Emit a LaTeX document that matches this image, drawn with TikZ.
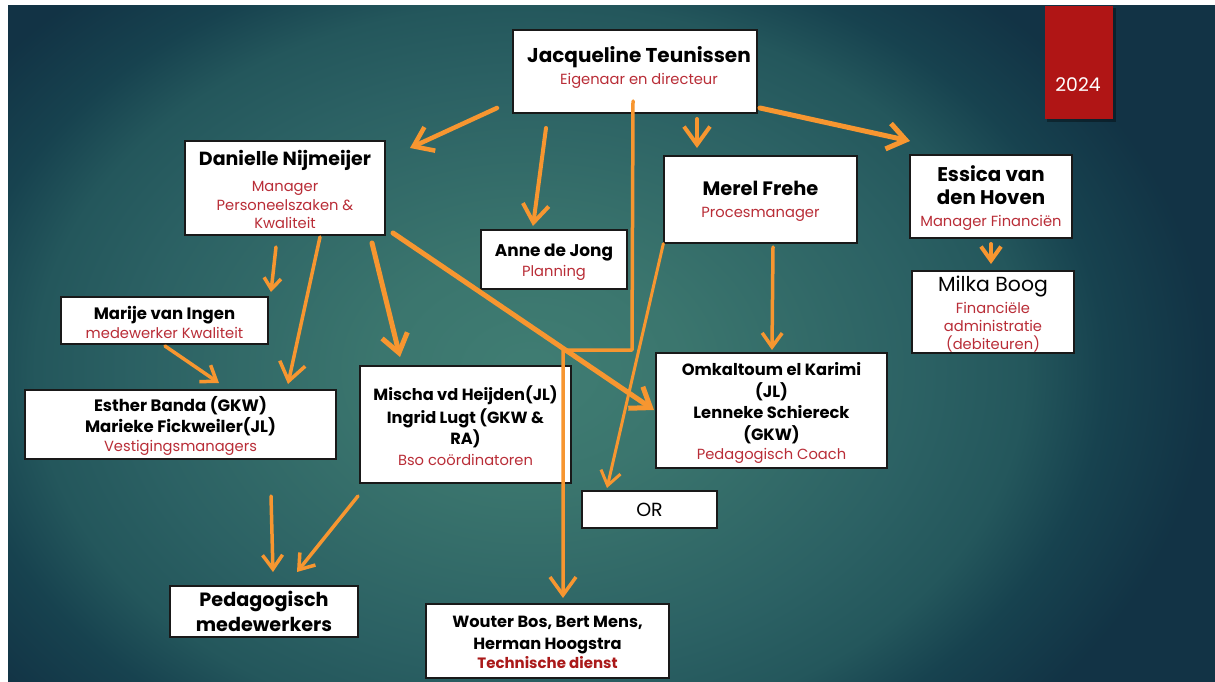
\documentclass[tikz,border=0pt]{standalone}
\usepackage{fontspec}
\setmainfont{Poppins}
\usetikzlibrary{arrows.meta}
\definecolor{orng}{RGB}{247,150,48}
\definecolor{subred}{RGB}{185,45,55}
\definecolor{tdred}{RGB}{170,25,25}
\definecolor{redbar}{RGB}{176,21,21}
\pgfdeclareradialshading{slidebg}{\pgfpoint{0bp}{0bp}}{rgb(0bp)=(0.25,0.49,0.45); rgb(12bp)=(0.23,0.46,0.43); rgb(30bp)=(0.17,0.38,0.39); rgb(38bp)=(0.14,0.34,0.36); rgb(44bp)=(0.09,0.26,0.31); rgb(52bp)=(0.07,0.20,0.27); rgb(100bp)=(0.07,0.20,0.27)}
\newcommand\nm[1]{\fontsize{#1}{19}\selectfont\bfseries}
\newcommand\sbt{\fontsize{14.7}{19}\selectfont\color{subred}}
\tikzset{
  box/.style={draw=black!90, line width=1.3pt, fill=white, inner sep=0pt},
  txt/.style={align=center, inner sep=0pt, font=\fontsize{14}{19}\selectfont},
  con/.style={draw=orng, line width=4pt, line cap=round, line join=round},
  arrbig/.style={con, -{Straight Barb[length=18pt,width=26pt]}},
  arrmid/.style={con, -{Straight Barb[length=14pt,width=20pt]}},
  arrsmall/.style={con, -{Straight Barb[length=11pt,width=17pt]}},
}
\begin{document}
\begin{tikzpicture}[x=1pt,y=-1pt]
\useasboundingbox (0,0) rectangle (1215,682);
\fill[white] (0,0) rectangle (1215,682);
\begin{scope}
\clip (8,6) rectangle (1215,682);
\pgftransformshift{\pgfpointxy{530}{370}}
\pgftransformxscale{13}
\pgftransformyscale{9.6}
\pgflowlevelsynccm
\pgfuseshading{slidebg}
\end{scope}
% red bar
\fill[black,opacity=0.35] (1047,8) rectangle (1116,122);
\node[fill=redbar, minimum width=68pt, minimum height=113pt, inner sep=0pt, anchor=north west] (bar) at (1045,6) {};
\node[txt, text=white, font=\fontsize{18.8}{19}\selectfont] (year) at (1078,85) {2024};

% boxes
\node[box, minimum width=244pt, minimum height=83pt] (jt) at (635,71.5) {};
\node[box, minimum width=200pt, minimum height=94pt] (dn) at (285,188) {};
\node[box, minimum width=146pt, minimum height=59pt] (aj) at (554,259.5) {};
\node[box, minimum width=193pt, minimum height=87pt] (mf) at (760.5,199.5) {};
\node[box, minimum width=162pt, minimum height=83pt] (ev) at (991,196.5) {};
\node[box, minimum width=162pt, minimum height=82pt] (mb) at (993,312) {};
\node[box, minimum width=207pt, minimum height=47pt] (mi) at (164.5,320.5) {};
\node[box, minimum width=311pt, minimum height=69pt] (eb) at (180.5,424.5) {};
\node[box, minimum width=211pt, minimum height=117pt] (mh) at (465.5,424.5) {};
\node[box, minimum width=231pt, minimum height=115pt] (ok) at (771.5,410.5) {};
\node[box, minimum width=135pt, minimum height=37pt] (or) at (649.5,509.5) {};
\node[box, minimum width=188pt, minimum height=51pt] (pm) at (264,611.5) {};
\node[box, minimum width=243pt, minimum height=74pt] (wb) at (547.5,641) {};

% texts
\node[txt] (jtt) at (639,67) {{\nm{20}Jacqueline Teunissen}\\[3pt]{\sbt Eigenaar en directeur}};
\node[txt] (dnt) at (285,189.5) {{\nm{19}Danielle Nijmeijer}\\[7pt]{\sbt Manager}\\{\sbt Personeelszaken \&}\\[-1pt]{\sbt Kwaliteit}};
\node[txt] (ajt) at (554,262) {{\nm{16.9}Anne de Jong}\\[1pt]{\sbt Planning}};
\node[txt] (mft) at (760.5,201) {{\nm{19.4}Merel Frehe}\\[3pt]{\sbt Procesmanager}};
\node[txt] (evt) at (991,198.5) {{\nm{19.8}Essica van}\\[4pt]{\nm{19.8}den Hoven}\\[3pt]{\sbt Manager Financiën}};
\node[txt] (mbt) at (993,314) {{\fontsize{20.4}{19}\selectfont Milka Boog}\\[3pt]{\sbt Financiële}\\[-1pt]{\sbt administratie}\\[-1pt]{\sbt (debiteuren)}};
\node[txt] (mit) at (164.5,322.5) {{\nm{16.5}Marije van Ingen}\\{\sbt medewerker Kwaliteit}};
\node[txt] (ebt) at (180.5,426) {{\nm{16.5}Esther Banda (GKW)}\\[2pt]{\nm{16.5}Marieke Fickweiler(JL)}\\{\sbt Vestigingsmanagers}};
\node[txt] (mht) at (465.5,425.5) {{\nm{16.2}Mischa vd Heijden(JL)}\\[3pt]{\nm{16.2}Ingrid Lugt (GKW \&}\\[1pt]{\nm{16.2}RA)}\\[2pt]{\sbt Bso coördinatoren}};
\node[txt] (okt) at (771.5,413) {{\nm{16.3}Omkaltoum el Karimi}\\[3pt]{\nm{16.3}(JL)}\\[2pt]{\nm{16.3}Lenneke Schiereck}\\[3pt]{\nm{16.3}(GKW)}\\{\sbt Pedagogisch Coach}};
\node[txt] (ort) at (649.5,510) {{\fontsize{19}{19}\selectfont OR}};
\node[txt] (pmt) at (264,611.5) {{\nm{19.2}Pedagogisch}\\[4pt]{\nm{19.2}medewerkers}};
\node[txt] (wbt) at (547.5,642.5) {{\nm{16.2}Wouter Bos, Bert Mens,}\\[3pt]{\nm{16.2}Herman Hoogstra}\\{\nm{15}\color{tdred}Technische dienst}};

% connector end points
\coordinate (c1s) at (497,108);  \coordinate (c1e) at (410,148);
\coordinate (c2s) at (546,128);  \coordinate (c2e) at (533,226);
\coordinate (c3s) at (633,101);  \coordinate (c3a) at (632,350);
\coordinate (c3b) at (563,350);  \coordinate (c3e) at (563,598);
\coordinate (c4s) at (697,119);  \coordinate (c4e) at (697,148);
\coordinate (c5s) at (760,108);  \coordinate (c5e) at (910,141);
\coordinate (c6s) at (991,244);  \coordinate (c6e) at (991,264);
\coordinate (c7s) at (773,247);  \coordinate (c7e) at (772,350);
\coordinate (c8e) at (607,488);
\coordinate (c9s) at (393,233);  \coordinate (c9e) at (654,410);
\coordinate (c10s) at (276,247); \coordinate (c10e) at (271,292);
\coordinate (c11s) at (320,237); \coordinate (c11e) at (288,384);
\coordinate (c12s) at (372,243); \coordinate (c12e) at (400,357);
\coordinate (c13s) at (165,346); \coordinate (c13e) at (219,383);
\coordinate (c14s) at (271,496); \coordinate (c14e) at (273,572);
\coordinate (c15s) at (358,496); \coordinate (c15e) at (297,572);

% connectors
\draw[arrbig, line width=4.5pt] (c1s) -- (c1e);
\draw[arrbig] (c2s) -- (c2e);
\draw[arrbig, line width=3.5pt] (c3s) -- (c3a) -- (c3b) -- (c3e);
\draw[arrbig] (c4s) -- (c4e);
\draw[arrbig, line width=5pt] (c5s) -- (c5e);
\draw[arrmid] (c6s) -- (c6e);
\draw[arrmid, line width=3.5pt] (c7s) -- (c7e);
\draw[arrmid, line width=3pt] (mf.south west) -- (c8e);
\draw[arrbig, line width=5pt] (c9s) -- (c9e);
\draw[arrsmall, line width=3.5pt] (c10s) -- (c10e);
\draw[arrbig, line width=3.5pt] (c11s) -- (c11e);
\draw[arrbig, line width=5pt] (c12s) -- (c12e);
\draw[arrmid, line width=3.5pt] (c13s) -- (c13e);
\draw[arrmid, line width=3.5pt] (c14s) -- (c14e);
\draw[arrmid, line width=3.5pt] (c15s) -- (c15e);
\end{tikzpicture}
\end{document}
